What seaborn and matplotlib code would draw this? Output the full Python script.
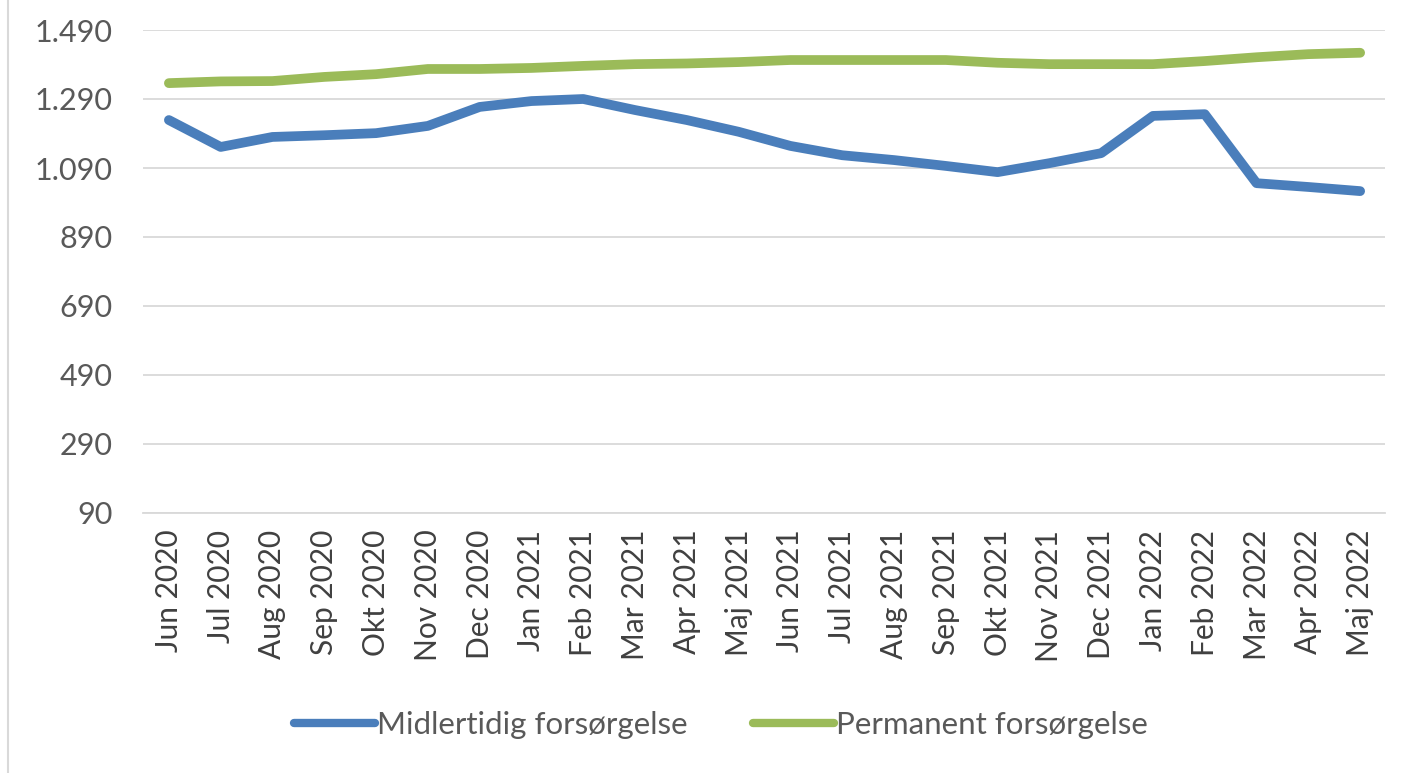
import matplotlib
matplotlib.use("Agg")
import matplotlib.pyplot as plt
from matplotlib.lines import Line2D
import seaborn as sns
import pandas as pd

months = ["Jun 2020", "Jul 2020", "Aug 2020", "Sep 2020", "Okt 2020", "Nov 2020",
          "Dec 2020", "Jan 2021", "Feb 2021", "Mar 2021", "Apr 2021", "Maj 2021",
          "Jun 2021", "Jul 2021", "Aug 2021", "Sep 2021", "Okt 2021", "Nov 2021",
          "Dec 2021", "Jan 2022", "Feb 2022", "Mar 2022", "Apr 2022", "Maj 2022"]
midlertidig = [1229, 1151, 1180, 1185, 1191, 1212, 1267, 1284, 1290, 1258, 1229, 1195,
               1154, 1127, 1113, 1096, 1078, 1104, 1133, 1241, 1246, 1046, 1035, 1023]
permanent = [1336, 1341, 1342, 1354, 1362, 1377, 1377, 1380, 1386, 1391, 1393, 1397,
             1403, 1403, 1403, 1403, 1395, 1391, 1391, 1391, 1400, 1411, 1420, 1424]
series_names = ["Midlertidig forsørgelse", "Permanent forsørgelse"]
yticks = [90, 290, 490, 690, 890, 1090, 1290, 1490]
ytick_labels = ["90", "290", "490", "690", "890", "1.090", "1.290", "1.490"]

colors = ["#4A7EBB", "#9BBB59"]

df = pd.DataFrame({
    "idx": list(range(len(months))) * 2,
    "value": midlertidig + permanent,
    "series": [series_names[0]] * len(months) + [series_names[1]] * len(months),
})

sns.set_style("white")
plt.rcParams["font.family"] = ["Lato", "DejaVu Sans"]

W, H = 1414, 773
fig = plt.figure(figsize=(W / 100, H / 100), dpi=100)
left, right, top, bottom = 143, 1385, 30, 513
ax = fig.add_axes([left / W, 1 - bottom / H, (right - left) / W, (bottom - top) / H])

sns.lineplot(data=df, x="idx", y="value", hue="series", palette=colors,
             linewidth=7, ax=ax, legend=False, solid_capstyle="round")

ax.set_ylim(90, 1490)
ax.set_xlim(-0.5, 23.48)
ax.set_yticks(yticks)
ax.set_yticklabels(ytick_labels)
ax.set_xticks(range(len(months)))
ax.set_xticklabels(months, rotation=90)
ax.grid(axis="y", color="#D9D9D9", linewidth=1.3)
ax.set_axisbelow(True)
for s in ["left", "right", "top"]:
    ax.spines[s].set_visible(False)
ax.spines["bottom"].set_color("#D9D9D9")
ax.spines["bottom"].set_linewidth(1.3)
ax.tick_params(axis="y", length=0, pad=22, labelsize=22, labelcolor="#595959")
ax.tick_params(axis="x", length=0, pad=12, labelsize=21.5, labelcolor="#404040")
ax.set_xlabel("")
ax.set_ylabel("")

handles = [Line2D([0], [0], color=c, linewidth=6, solid_capstyle="round") for c in colors]
fig.legend(handles, series_names, loc="center", bbox_to_anchor=(721 / W, 1 - 725 / H),
           ncol=2, frameon=False, fontsize=22.5, handlelength=2.6, handletextpad=0.05,
           columnspacing=2.1, labelcolor="#595959")

fig.add_artist(Line2D([8 / W, 8 / W], [0, 1], transform=fig.transFigure,
                      color="#D9D9D9", linewidth=1.5))

fig.savefig("out.png", dpi=100)
